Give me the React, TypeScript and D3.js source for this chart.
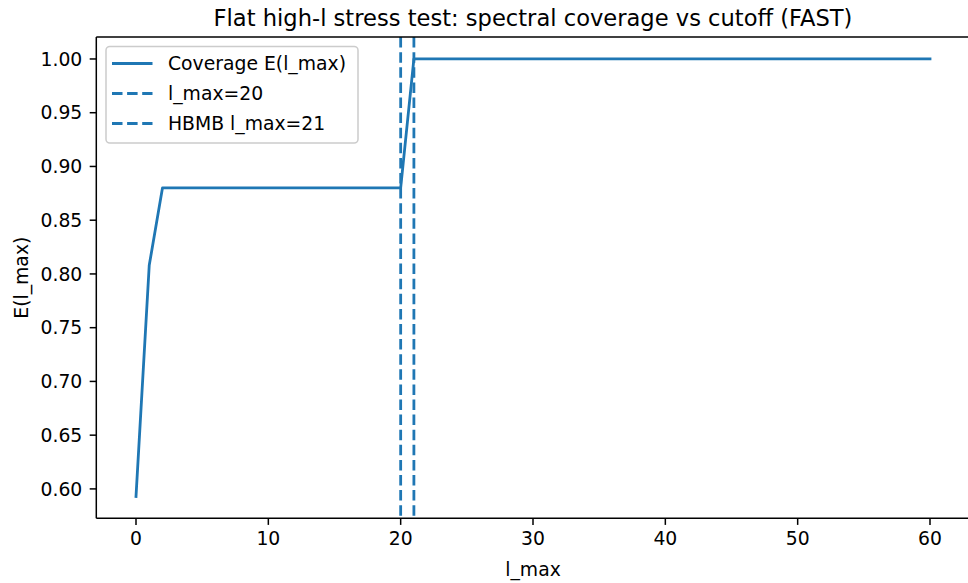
import React from "react";
import * as d3 from "d3";

const lValues: number[] = d3.range(0, 61);
const coverage: number[] = [
  0.593, 0.808,
  0.88, 0.88, 0.88, 0.88, 0.88, 0.88, 0.88, 0.88, 0.88, 0.88,
  0.88, 0.88, 0.88, 0.88, 0.88, 0.88, 0.88, 0.88, 0.88,
  1.0, 1.0, 1.0, 1.0, 1.0, 1.0, 1.0, 1.0, 1.0, 1.0,
  1.0, 1.0, 1.0, 1.0, 1.0, 1.0, 1.0, 1.0, 1.0, 1.0,
  1.0, 1.0, 1.0, 1.0, 1.0, 1.0, 1.0, 1.0, 1.0, 1.0,
  1.0, 1.0, 1.0, 1.0, 1.0, 1.0, 1.0, 1.0, 1.0, 1.0,
];
const vlines: number[] = [20, 21];
const xTicks: number[] = [0, 10, 20, 30, 40, 50, 60];
const yTicks: number[] = [0.6, 0.65, 0.7, 0.75, 0.8, 0.85, 0.9, 0.95, 1.0];
const legendLabels: string[] = ["Coverage E(l_max)", "l_max=20", "HBMB l_max=21"];
const title = "Flat high-l stress test: spectral coverage vs cutoff (FAST)";

const W = 968;
const H = 583;
const L = 96.3;
const R = 969.7;
const T = 37.1;
const B = 518.3;
const C = "#1f77b4";
const FONT = "'DejaVu Sans', sans-serif";
const FS = 18.8;
const DASH = "10.5 4.6";
const LW = 2.8;
const SW = 1.5;
const TL = 6.6;

export default function App() {
  const yMin = d3.min(coverage)!;
  const yMax = d3.max(coverage)!;
  const pad = (yMax - yMin) * 0.05;
  const x = d3.scaleLinear().domain([-3, 63]).range([L, R]);
  const y = d3.scaleLinear().domain([yMin - pad, yMax + pad]).range([B, T]);
  const line = d3
    .line<number>()
    .x((_, i) => x(lValues[i]))
    .y((d) => y(d));

  return (
    <svg
      width={W}
      height={H}
      style={{ position: "absolute", left: 0, top: 0, background: "#fff" }}
      fontFamily={FONT}
    >
      <rect x={0} y={0} width={W} height={H} fill="#fff" />
      <defs>
        <clipPath id="clip">
          <rect x={L} y={T} width={R - L} height={B - T} />
        </clipPath>
      </defs>
      <g clipPath="url(#clip)">
        <path
          d={line(coverage)!}
          fill="none"
          stroke={C}
          strokeWidth={LW}
          strokeLinejoin="round"
          strokeLinecap="square"
        />
        {vlines.map((v) => (
          <line
            key={v}
            x1={x(v)}
            x2={x(v)}
            y1={T}
            y2={B}
            stroke={C}
            strokeWidth={LW}
            strokeDasharray={DASH}
          />
        ))}
      </g>
      {/* spines */}
      <line x1={L} x2={L} y1={T} y2={B} stroke="#000" strokeWidth={SW} />
      <line x1={L} x2={R} y1={B} y2={B} stroke="#000" strokeWidth={SW} />
      <line x1={L} x2={R} y1={T} y2={T} stroke="#000" strokeWidth={SW} />
      <line x1={R} x2={R} y1={T} y2={B} stroke="#000" strokeWidth={SW} />
      {/* x ticks */}
      {xTicks.map((t) => (
        <g key={t}>
          <line x1={x(t)} x2={x(t)} y1={B} y2={B + TL} stroke="#000" strokeWidth={SW} />
          <text x={x(t)} y={B + 27} textAnchor="middle" fontSize={FS} fill="#000">
            {t}
          </text>
        </g>
      ))}
      {/* y ticks */}
      {yTicks.map((t) => (
        <g key={t}>
          <line x1={L} x2={L - TL} y1={y(t)} y2={y(t)} stroke="#000" strokeWidth={SW} />
          <text
            x={L - 14}
            y={y(t)}
            dy="0.36em"
            textAnchor="end"
            fontSize={FS}
            fill="#000"
          >
            {t.toFixed(2)}
          </text>
        </g>
      ))}
      <text x={(L + R) / 2} y={576} textAnchor="middle" fontSize={FS} fill="#000">
        l_max
      </text>
      <text
        transform={`translate(27.5,${(T + B) / 2}) rotate(-90)`}
        textAnchor="middle"
        fontSize={FS}
        fill="#000"
      >
        E(l_max)
      </text>
      <text x={(L + R) / 2} y={25.5} textAnchor="middle" fontSize={22.6} fill="#000">
        {title}
      </text>
      {/* legend */}
      <g>
        <rect
          x={106}
          y={46.5}
          width={252}
          height={96.5}
          rx={3.8}
          fill="#fff"
          fillOpacity={0.8}
          stroke="#cccccc"
          strokeWidth={SW}
        />
        {legendLabels.map((lab, i) => {
          const cy = 63.5 + i * 30;
          return (
            <g key={lab}>
              <line
                x1={112}
                x2={152.5}
                y1={cy}
                y2={cy}
                stroke={C}
                strokeWidth={LW}
                strokeDasharray={i === 0 ? undefined : DASH}
              />
              <text x={168} y={cy} dy="0.36em" fontSize={FS} fill="#000">
                {lab}
              </text>
            </g>
          );
        })}
      </g>
    </svg>
  );
}
